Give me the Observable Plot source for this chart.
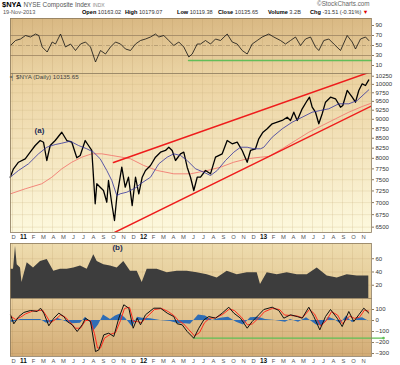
<!DOCTYPE html>
<html><head><meta charset="utf-8">
<script src="https://cdn.jsdelivr.net/npm/d3@7"></script>
<script src="https://cdn.jsdelivr.net/npm/@observablehq/plot@0.6"></script>
<style>
body{margin:0;background:#fff;font-family:"Liberation Sans",Arial,sans-serif;}
#wrap{position:relative;width:400px;height:365px;overflow:hidden;background:#fff;}
.abs{position:absolute;white-space:nowrap;line-height:1;}
.p{position:absolute;left:0;}
</style></head>
<body>
<div id="wrap">
  <div class="abs" style="left:2px;top:1px;font-size:7.5px;"><b style="color:#000">$NYA</b> <span style="color:#555;font-size:6.4px">NYSE Composite Index</span> <span style="color:#888;font-size:5px">INDX</span></div>
  <div class="abs" style="left:317px;top:1px;font-size:6.3px;color:#666">©StockCharts.com</div>
  <div class="abs" style="left:3px;top:10px;font-size:5.6px;color:#555">19-Nov-2013</div>
  <div class="abs" style="left:82px;top:10px;font-size:5.6px;color:#333"><b style="color:#000">Open</b> 10163.02</div>
  <div class="abs" style="left:125px;top:10px;font-size:5.6px;color:#333"><b style="color:#000">High</b> 10179.07</div>
  <div class="abs" style="left:177px;top:10px;font-size:5.6px;color:#333"><b style="color:#000">Low</b> 10119.38</div>
  <div class="abs" style="left:218px;top:10px;font-size:5.6px;color:#333"><b style="color:#000">Close</b> 10135.65</div>
  <div class="abs" style="left:268px;top:10px;font-size:5.6px;color:#333"><b style="color:#000">Volume</b> 3.2B</div>
  <div class="abs" style="left:310px;top:10px;font-size:5.6px;color:#333"><b style="color:#000">Chg</b> -31.51 (-0.31%) <span style="color:#d00">▼</span></div>
  <div class="p" id="rsi" style="top:18px"></div>
  <div class="p" id="main" style="top:73px"></div>
  <div class="abs" style="left:10px;top:74px;font-size:6.2px;color:#444">╡ $NYA (Daily) 10135.65</div>
  <div class="p" id="vol" style="top:243px"></div>
  <div class="p" id="macd" style="top:298px"></div>
</div>
<script>
// ---- time is in months since 1 Dec 2010 (0 = Dec 2010, 1 = Jan 2011, ...)
const monthLabels = ["D","11","F","M","A","M","J","J","A","S","O","N","D","12","F","M","A","M","J","J","A","S","O","N","D","13","F","M","A","M","J","J","A","S","O","N"];
const yearLabels = ["11","12","13"];
const xDomain = [-0.2, 35.9];

// ---- price (closing path)
const priceT = [-0.23,0.10,0.60,1.27,1.77,2.27,2.77,3.10,3.43,3.77,4.27,4.93,5.43,5.93,6.43,6.77,7.27,7.60,7.93,8.27,8.43,8.77,9.10,9.43,9.60,9.93,10.20,10.43,10.93,11.27,11.60,11.97,12.30,12.63,12.97,13.30,13.80,14.30,14.80,15.30,15.63,15.97,16.30,16.80,17.13,17.47,17.80,18.13,18.47,18.80,19.30,19.80,20.30,20.97,21.47,21.97,22.47,22.97,23.47,23.80,24.30,24.63,25.05,25.47,25.97,26.47,26.97,27.47,27.80,28.13,28.47,28.97,29.47,29.70,29.97,30.30,30.63,30.97,31.30,31.80,32.30,32.80,33.03,33.47,33.97,34.30,34.63,34.97,35.30,35.63];
const priceV = [7557,7751,7907,7989,8150,8316,8442,8399,7948,8316,8442,8656,8442,8399,8013,8069,8442,8316,8192,6975,7409,7333,7260,7008,7483,6975,6632,7115,7789,7333,7557,6938,7557,7188,7557,7712,7829,8028,8150,8192,8273,8192,7948,8110,8150,7789,7557,7260,7557,7557,7712,7635,8028,8110,8442,8359,8399,8192,7907,8192,8234,8486,8656,8745,8879,8922,8968,9057,8968,9195,8968,9290,9525,9621,9335,9195,8879,9151,9477,9621,9575,9335,9383,9818,9621,9477,9818,10017,9966,10135];

// ---- 50-day moving average (blue)
const ma50T = [-0.23,0.6,1.6,2.6,3.43,4.27,4.93,5.77,6.6,7.43,8.1,8.77,9.43,9.93,10.43,10.77,11.43,12.43,12.8,13.8,14.63,15.47,16.13,16.8,17.47,18.3,19.13,19.8,20.47,21.3,22.13,22.8,23.47,24.13,24.8,25.13,25.97,26.97,27.97,28.97,29.97,30.8,31.63,32.63,33.63,34.47,35.63];
const ma50V = [7557,7712,7869,8110,8273,8340,8374,8425,8316,8234,8150,7989,7712,7483,7151,7188,7223,7333,7409,7557,7869,8028,8110,8069,7948,7751,7672,7596,7712,7948,8150,8273,8273,8234,8234,8273,8527,8745,8922,9057,9195,9243,9290,9431,9431,9525,9838];

// ---- 200-day moving average (light red)
const ma200T = [-0.2,1.27,2.93,3.93,4.93,5.93,6.93,7.93,8.93,9.93,10.93,11.8,13.13,14.47,16.13,17.8,19.47,20.8,22.13,23.47,24.8,25.63,26.97,28.3,29.63,30.97,32.3,33.63,34.97,35.8];
const ma200V = [7188,7297,7409,7557,7751,7907,8028,8110,8110,8069,8028,7989,7829,7712,7635,7635,7712,7789,7907,7989,8028,8044,8234,8442,8656,8833,9014,9195,9354,9440];

// ---- trend channel (two points each)
const upperLineT = [10.1, 35.9];
const upperLineV = [7900, 10396];
const lowerLineT = [9.93, 35.9];
const lowerLineV = [6371, 9369];
const priceTicks = [6500,6750,7000,7250,7500,7750,8000,8250,8500,8750,9000,9250,9500,9750,10000,10250];

// ---- RSI(14)
const rsiT = [-0.2,0.3,0.8,1.3,1.8,2.3,2.63,2.97,3.47,3.97,4.3,4.8,5.3,5.8,6.3,6.8,7.3,7.8,8.3,8.8,9.3,9.8,10.3,10.8,11.3,11.8,12.3,12.8,13.3,13.8,14.3,14.63,15.13,15.63,16.13,16.63,17.13,17.63,17.97,18.47,18.8,19.3,19.8,20.3,20.8,21.47,21.97,22.47,22.97,23.47,23.97,24.47,24.97,25.63,26.13,26.8,27.3,27.8,28.3,28.8,29.3,29.8,30.3,30.63,31.13,31.63,32.13,32.8,33.47,33.97,34.3,34.8,35.3,35.63];
const rsiV = [50,60,63,70,67,73,70,47,37,57,53,73,47,53,40,53,57,47,17,40,33,47,57,53,43,40,53,60,63,67,73,67,70,60,50,57,47,27,33,53,53,60,53,63,60,73,57,53,40,33,53,60,67,73,67,60,53,60,67,50,63,67,47,40,60,63,53,40,70,57,43,63,67,60];
const rsiTicks = [90,70,50,30,10];
const rsiSupportT = [17.6, 35.9];
const rsiSupportV = 20;

// ---- volume (hundreds of millions)
const volT = [-0.2,0.1,0.3,0.47,0.8,0.95,1.05,1.47,2.1,2.8,3.47,4.13,4.8,5.47,6.13,6.8,7.47,8.13,8.47,9.13,9.8,10.47,11.13,11.8,12.47,12.97,13.47,14.47,15.47,16.47,17.47,18.47,19.47,20.47,21.47,22.47,23.47,24.47,24.8,25.47,26.47,27.47,28.47,29.47,30.47,31.47,32.47,33.47,34.47,35.47,35.63];
const volV = [44,44,79,51,46,24,30,54,46,56,59,41,44,44,46,49,44,66,56,51,49,46,56,41,41,24,44,44,39,41,41,39,36,31,41,36,39,39,21,39,36,39,36,36,46,34,31,36,34,34,34];
const volTicks = [20,40,60];

// ---- MACD
const macdT = [-0.2,0.13,0.63,1.13,1.8,2.47,2.8,3.13,3.63,4.13,4.63,5.13,5.47,5.97,6.47,6.97,7.3,7.8,8.3,8.63,9.13,9.63,10.13,10.63,11.13,11.63,12.07,12.47,12.8,13.3,14.13,14.8,15.47,16.13,16.47,16.97,17.47,18.13,18.63,19.13,19.63,20.3,20.97,21.63,22.13,22.8,23.47,23.97,24.63,25.13,25.97,26.63,27.13,27.8,28.47,28.97,29.63,30.13,30.73,31.3,31.8,32.47,32.97,33.63,34.13,34.63,35.13,35.63];
const macdV = [52,-30,36,73,91,82,112,67,-48,21,67,36,-9,-39,-100,-39,21,-9,-282,-267,-130,-115,-145,21,143,112,-70,21,-39,52,112,112,67,36,-30,-39,-100,-161,-70,6,36,21,67,121,67,21,-70,-9,52,100,121,91,21,52,36,21,121,36,-85,36,100,21,-55,82,-9,52,112,67];
const signalT = [-0.2,0.3,0.8,1.3,2.0,2.6,3.0,3.4,3.8,4.3,4.8,5.3,5.8,6.3,6.8,7.3,7.8,8.2,8.5,8.8,9.2,9.8,10.3,10.8,11.2,11.7,12.1,12.5,12.9,13.4,14.2,14.9,15.6,16.2,16.6,17.1,17.6,18.2,18.7,19.2,19.7,20.3,21.0,21.7,22.2,22.9,23.5,24.0,24.7,25.2,26.0,26.7,27.2,27.9,28.5,29.0,29.7,30.2,30.8,31.4,31.9,32.5,33.0,33.7,34.2,34.7,35.2,35.6];
const signalV = [40,10,30,60,85,90,95,40,-20,10,50,30,-20,-70,-70,0,0,-120,-250,-250,-160,-125,-110,0,110,120,-10,-10,-20,30,100,110,80,40,0,-30,-80,-140,-110,-20,20,25,55,105,90,30,-40,-30,30,80,110,100,50,45,40,25,100,60,-50,0,80,50,-30,40,20,30,95,85];
const histT = [-0.2,0.1,0.8,1.8,2.8,3.4,3.8,4.5,5.3,6.0,6.8,7.3,7.8,8.1,8.6,9.1,9.8,10.3,10.8,11.3,12.0,12.5,13.0,13.8,14.8,15.8,16.6,17.3,17.8,18.6,19.3,20.0,20.8,21.6,22.4,23.1,23.8,24.6,25.3,26.3,27.3,27.8,28.6,29.4,30.4,31.0,31.6,32.2,32.8,33.4,34.0,34.6,35.0,35.6];
const histV = [-15,-15,10,10,10,-25,-20,20,-10,-30,-25,30,-20,-100,-40,50,10,40,60,20,-60,30,20,15,0,-10,-30,-30,-35,50,40,0,20,30,-15,-40,25,30,10,0,-15,10,-15,25,-40,-50,30,10,-30,40,-20,20,25,-5];
const macdTicks = [100,0,-100,-200,-300];
const macdSupportT = [18.1, 37.1];
const macdSupportV = -160;

// annotations
const noteA = {t: 2.7, v: 8690, label: "(a)"};
const noteB = {t: 10.5, v: 77, label: "(b)"};

// ---------- build tables
const zip = (T, V) => T.map((t, i) => ({t, v: V[i]}));
const price = zip(priceT, priceV), ma50 = zip(ma50T, ma50V), ma200 = zip(ma200T, ma200V);
const upper = zip(upperLineT, upperLineV), lower = zip(lowerLineT, lowerLineV);
const rsi = zip(rsiT, rsiV), rsiSup = rsiSupportT.map(t => ({t, v: rsiSupportV}));
const vol = zip(volT, volV);
const macd = zip(macdT, macdV), signal = zip(signalT, signalV), hist = zip(histT, histV);
const macdSup = macdSupportT.map(t => ({t, v: macdSupportV}));
const monthIdx = d3.range(monthLabels.length);
const yearIdx = monthIdx.filter(i => yearLabels.includes(monthLabels[i]));
const plainIdx = monthIdx.filter(i => !yearLabels.includes(monthLabels[i]));

const FONT = "'Liberation Sans', Arial, sans-serif";
const style = {fontFamily: FONT, fontSize: "6px", color: "#333", background: "transparent", overflow: "visible"};
const frameColor = "#8c7a5e";

function bg(id, c0, c1) {
  return (index, scales, values, dims) => {
    const g = d3.create("svg:g");
    const grad = g.append("defs").append("linearGradient").attr("id", id)
      .attr("x1", 0).attr("y1", 0).attr("x2", 0).attr("y2", 1);
    grad.append("stop").attr("offset", "0%").attr("stop-color", c0);
    grad.append("stop").attr("offset", "100%").attr("stop-color", c1);
    g.append("rect").attr("x", dims.marginLeft).attr("y", dims.marginTop)
      .attr("width", dims.width - dims.marginLeft - dims.marginRight)
      .attr("height", dims.height - dims.marginTop - dims.marginBottom)
      .attr("fill", `url(#${id})`);
    return g.node();
  };
}
const monthGrid = (c, o) => Plot.ruleX(monthIdx, {x: d => d, stroke: c, strokeOpacity: o, strokeWidth: 0.6});
const monthText = () => [
  Plot.text(plainIdx, {x: d => d, text: d => monthLabels[d], frameAnchor: "bottom", dy: 6.5, dx: 1, fontSize: 5.8, fill: "#555"}),
  Plot.text(yearIdx, {x: d => d, text: d => monthLabels[d], frameAnchor: "bottom", dy: 6.5, dx: 1, fontSize: 6.5, fontWeight: "bold", fill: "#111"})
];
const yAxis = (ticks, extra = {}) => Plot.axisY({ticks, anchor: "right", label: null, tickSize: 2, tickPadding: 2, stroke: frameColor, ...extra});
const base = {width: 400, marginLeft: 10, marginRight: 29, marginTop: 0, style};

// ---------- RSI
document.getElementById("rsi").append(Plot.plot({
  ...base, height: 55, marginBottom: 0,
  x: {domain: xDomain, axis: null}, y: {domain: [-6, 104], axis: null},
  marks: [
    bg("gRsi", "#d9b883", "#ead3a3"),
    monthGrid("#b8955e", 0.35),
    Plot.ruleY([70, 30], {y: d => d, stroke: "#9c8462", strokeWidth: 0.8}),
    Plot.ruleY([50], {y: d => d, stroke: "#9c8462", strokeWidth: 0.6, strokeDasharray: "4,1.5,1,1.5"}),
    Plot.line(rsiSup, {x: "t", y: "v", stroke: "#62bd58", strokeWidth: 1.4}),
    Plot.line(rsi, {x: "t", y: "v", stroke: "#111", strokeWidth: 0.8}),
    yAxis(rsiTicks),
    Plot.frame({stroke: frameColor, strokeWidth: 0.8})
  ]
}));

// ---------- Price
document.getElementById("main").append(Plot.plot({
  ...base, height: 170, marginBottom: 11,
  x: {domain: xDomain, axis: null},
  y: {type: "log", domain: [6396, 10334], axis: null},
  marks: [
    bg("gMain", "#ebd19f", "#fdf9de"),
    monthGrid("#c9ad7a", 0.4),
    Plot.ruleY(priceTicks, {y: d => d, stroke: "#c9ad7a", strokeOpacity: 0.4, strokeWidth: 0.6}),
    Plot.line(ma200, {x: "t", y: "v", stroke: "#f27a72", strokeWidth: 0.9}),
    Plot.line(upper, {x: "t", y: "v", stroke: "#ee1c1c", strokeWidth: 1.5, clip: true}),
    Plot.line(lower, {x: "t", y: "v", stroke: "#ee1c1c", strokeWidth: 1.5, clip: true}),
    Plot.line(price, {x: "t", y: "v", stroke: "#000", strokeWidth: 1.3}),
    Plot.line(ma50, {x: "t", y: "v", stroke: "#34349e", strokeWidth: 0.8}),
    Plot.text([noteA], {x: "t", y: "v", text: "label", fontSize: 8, fontWeight: "bold", fill: "#1d2b55"}),
    yAxis(priceTicks, {tickFormat: d => String(d)}),
    ...monthText(),
    Plot.frame({stroke: frameColor, strokeWidth: 0.8})
  ]
}));

// ---------- Volume
document.getElementById("vol").append(Plot.plot({
  ...base, height: 55, marginBottom: 0,
  x: {domain: xDomain, axis: null}, y: {domain: [0, 83], axis: null},
  marks: [
    bg("gVol", "#eedcae", "#e2c793"),
    monthGrid("#b8955e", 0.3),
    Plot.ruleY(volTicks, {y: d => d, stroke: "#b8955e", strokeOpacity: 0.3, strokeWidth: 0.6}),
    Plot.areaY(vol, {x: "t", y: "v", fill: "#3d3d3d"}),
    Plot.text([noteB], {x: "t", y: "v", text: "label", fontSize: 8, fontWeight: "bold", fill: "#1d2b55"}),
    yAxis(volTicks),
    Plot.frame({stroke: frameColor, strokeWidth: 0.8})
  ]
}));

// ---------- MACD
document.getElementById("macd").append(Plot.plot({
  ...base, height: 68, marginBottom: 10,
  x: {domain: xDomain, axis: null}, y: {domain: [-327, 200], axis: null},
  marks: [
    bg("gMacd", "#e9cf9e", "#d2ab75"),
    monthGrid("#a88550", 0.3),
    Plot.ruleY(macdTicks, {y: d => d, stroke: "#a88550", strokeOpacity: 0.3, strokeWidth: 0.6}),
    Plot.areaY(hist, {x: "t", y: "v", fill: "#2f6db5"}),
    Plot.line(macdSup, {x: "t", y: "v", stroke: "#5fbf55", strokeWidth: 1.3}),
    Plot.dot([macdSup[1]], {x: "t", y: "v", r: 1.3, fill: "#5fbf55"}),
    Plot.line(signal, {x: "t", y: "v", stroke: "#ff2a1f", strokeWidth: 1}),
    Plot.line(macd, {x: "t", y: "v", stroke: "#111", strokeWidth: 1}),
    yAxis(macdTicks),
    ...monthText(),
    Plot.frame({stroke: frameColor, strokeWidth: 0.8})
  ]
}));
</script>
</body></html>
